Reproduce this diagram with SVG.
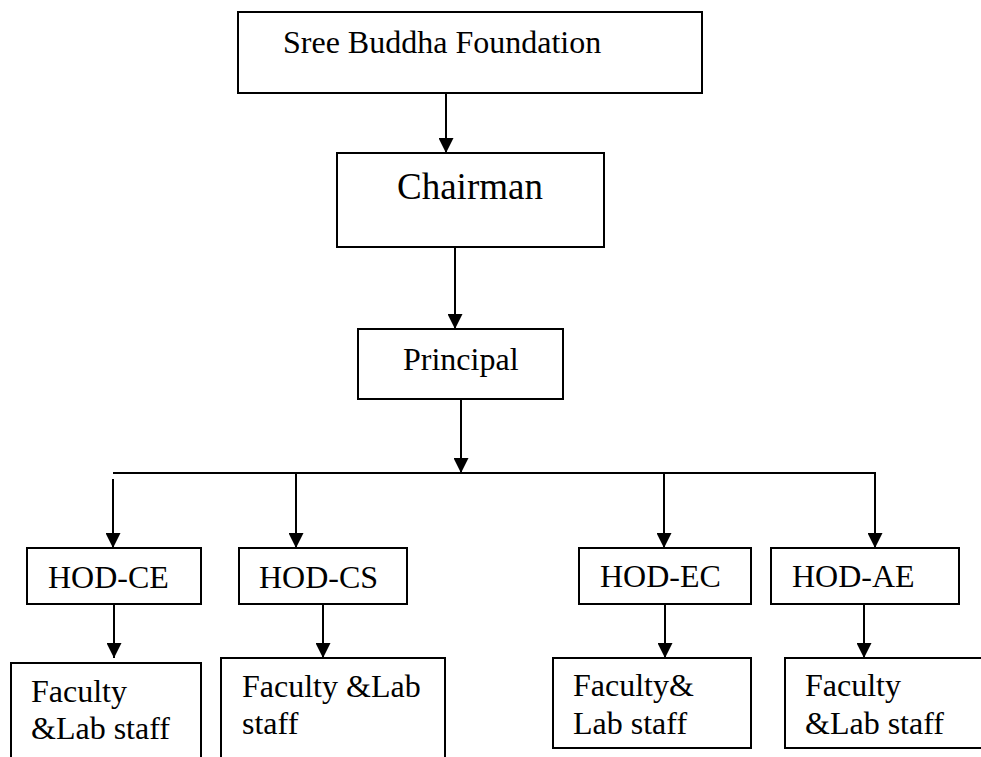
<svg xmlns="http://www.w3.org/2000/svg" width="981" height="757" viewBox="0 0 981 757">
<style>
.box{fill:#fff;stroke:#000;stroke-width:2}
.t{font-family:"Liberation Serif","Times New Roman",serif;font-size:32px;fill:#000}
.big{font-size:37px}
.c{stroke:#000;stroke-width:2;fill:none}
.a{marker-end:url(#arr)}
</style>
<defs>
<marker id="arr" markerUnits="userSpaceOnUse" markerWidth="15" markerHeight="15" refX="15" refY="7.5" orient="auto" viewBox="0 0 15 15">
<path d="M0,0 L15,7.5 L0,15 z" fill="#000"/>
</marker>
</defs>
<rect width="981" height="757" fill="#fff"/>
<g id="connectors">
<line class="c a" x1="446" y1="93" x2="446" y2="153"/>
<line class="c a" x1="455" y1="247" x2="455" y2="329"/>
<line class="c a" x1="461" y1="399" x2="461" y2="473"/>
<line class="c" x1="113" y1="473" x2="876" y2="473"/>
<line class="c a" x1="113" y1="479" x2="113" y2="548"/>
<line class="c a" x1="296" y1="473" x2="296" y2="548"/>
<line class="c a" x1="664" y1="473" x2="664" y2="548"/>
<line class="c a" x1="875" y1="473" x2="875" y2="548"/>
<line class="c a" x1="114" y1="604" x2="114" y2="658"/>
<line class="c a" x1="323" y1="604" x2="323" y2="658"/>
<line class="c a" x1="665" y1="604" x2="665" y2="658"/>
<line class="c a" x1="864" y1="604" x2="864" y2="658"/>
</g>
<g id="foundation">
<rect class="box" x="238" y="12" width="464" height="81"/>
<text class="t" x="283" y="53">Sree Buddha Foundation</text>
</g>
<g id="chairman">
<rect class="box" x="337" y="153" width="267" height="94"/>
<text class="t big" x="397" y="199">Chairman</text>
</g>
<g id="principal">
<rect class="box" x="358" y="329" width="205" height="70"/>
<text class="t" x="403" y="370">Principal</text>
</g>
<g id="hod-ce">
<rect class="box" x="27" y="548" width="174" height="56"/>
<text class="t" x="48" y="588">HOD-CE</text>
</g>
<g id="hod-cs">
<rect class="box" x="239" y="548" width="168" height="56"/>
<text class="t" x="259" y="588">HOD-CS</text>
</g>
<g id="hod-ec">
<rect class="box" x="579" y="548" width="172" height="56"/>
<text class="t" x="600" y="587">HOD-EC</text>
</g>
<g id="hod-ae">
<rect class="box" x="771" y="548" width="188" height="56"/>
<text class="t" x="792" y="587">HOD-AE</text>
</g>
<g id="staff-ce">
<rect class="box" x="11" y="663" width="190" height="110"/>
<text class="t" x="31" y="702">Faculty</text>
<text class="t" x="31" y="739">&amp;Lab staff</text>
</g>
<g id="staff-cs">
<rect class="box" x="221" y="658" width="224" height="115"/>
<text class="t" x="242" y="697">Faculty &amp;Lab</text>
<text class="t" x="242" y="734">staff</text>
</g>
<g id="staff-ec">
<rect class="box" x="553" y="658" width="198" height="90"/>
<text class="t" x="573" y="696">Faculty&amp;</text>
<text class="t" x="573" y="734">Lab staff</text>
</g>
<g id="staff-ae">
<rect class="box" x="785" y="658" width="220" height="90"/>
<text class="t" x="805" y="696">Faculty</text>
<text class="t" x="805" y="734">&amp;Lab staff</text>
</g>
</svg>
